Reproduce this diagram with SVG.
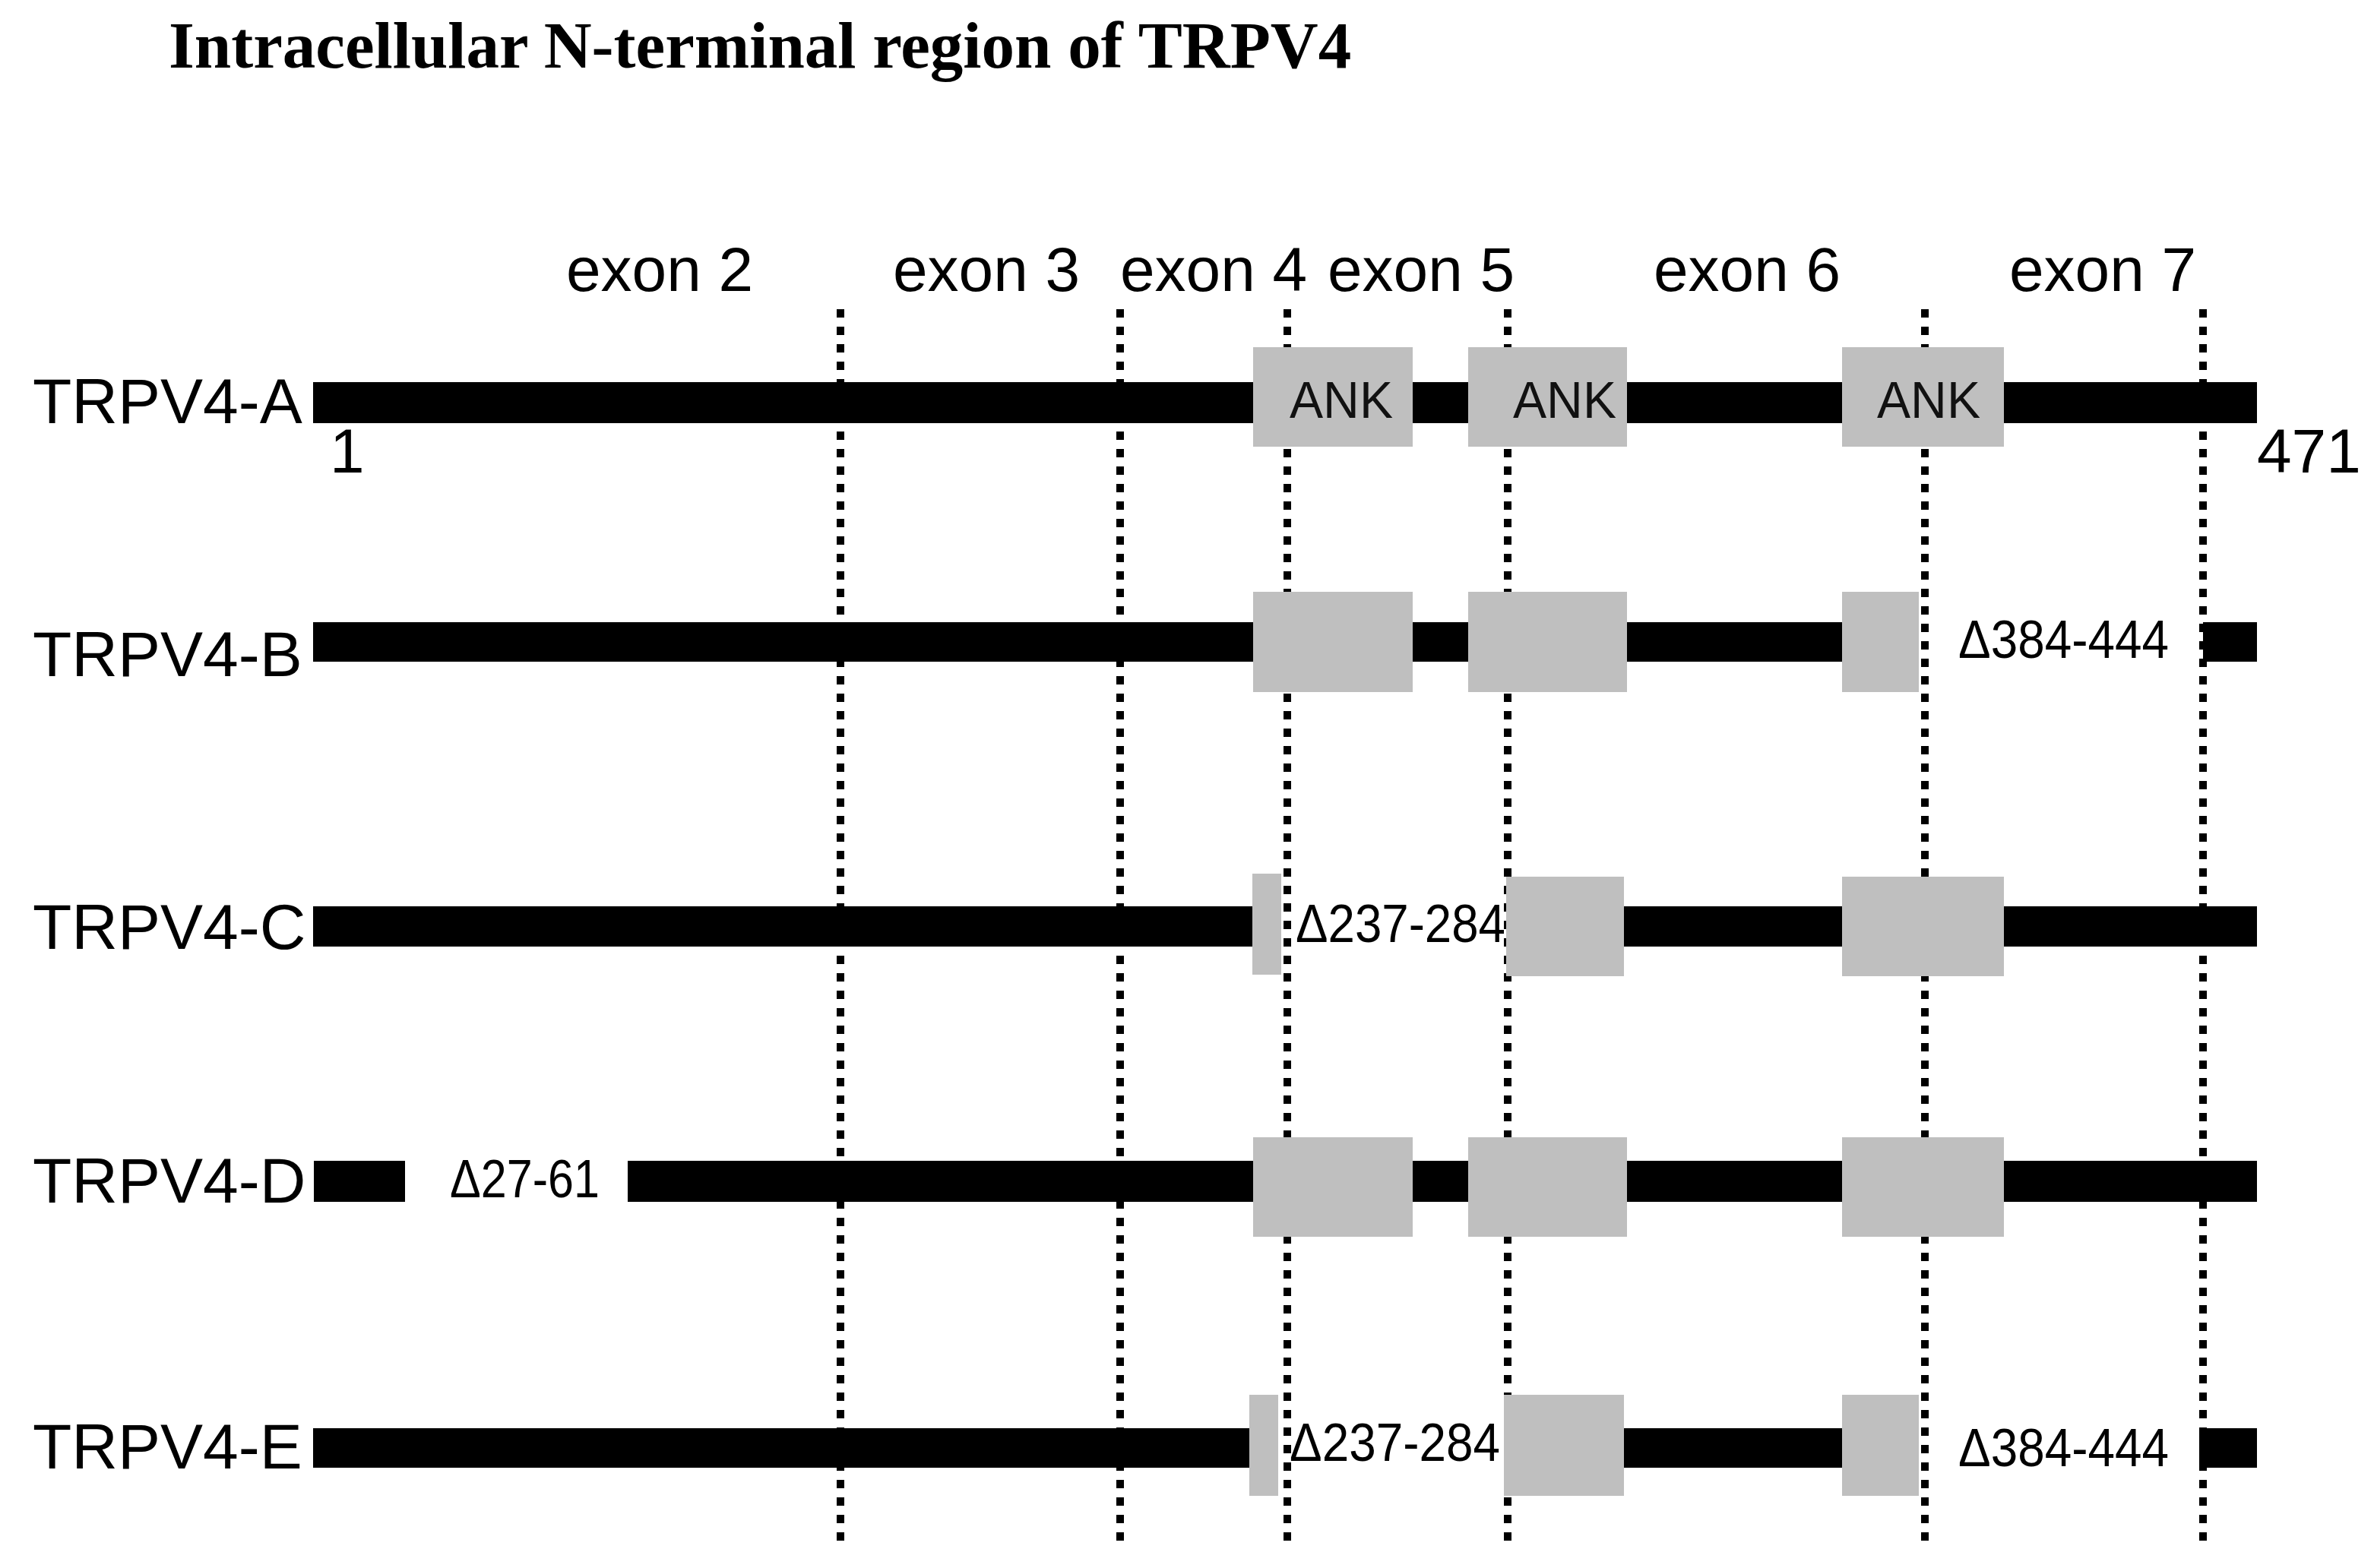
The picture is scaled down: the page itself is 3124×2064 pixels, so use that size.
<svg xmlns="http://www.w3.org/2000/svg" width="3124" height="2064" viewBox="0 0 3124 2064">
<style>
.title{font-family:"Liberation Serif","Times New Roman",serif;font-weight:bold;font-size:87px;fill:#000}
.lbl{font-family:"Liberation Sans",Arial,sans-serif;font-size:84px;fill:#000}
.exon{font-family:"Liberation Sans",Arial,sans-serif;font-size:82px;fill:#000}
.num{font-family:"Liberation Sans",Arial,sans-serif;font-size:82px;fill:#000}
.ank{font-family:"Liberation Sans",Arial,sans-serif;font-size:68px;fill:#111}
.del{font-family:"Liberation Sans",Arial,sans-serif;font-size:70px;fill:#000}
.bar{fill:#000}
.box{fill:#bfbfbf}
.dots{stroke:#000;stroke-width:10;stroke-dasharray:11 12;fill:none}
</style>
<rect width="3124" height="2064" fill="#fff"/>
<text class="title" x="222" y="89">Intracellular N-terminal region of TRPV4</text>
<g id="exon-labels">
<text class="exon" x="745" y="383">exon 2</text>
<text class="exon" x="1175" y="383">exon 3</text>
<text class="exon" x="1474" y="383">exon 4</text>
<text class="exon" x="1747" y="383">exon 5</text>
<text class="exon" x="2176" y="383">exon 6</text>
<text class="exon" x="2644" y="383">exon 7</text>
</g>
<g id="connectors">
<line class="dots" x1="1106" y1="407" x2="1106" y2="2037"/>
<line class="dots" x1="1474" y1="407" x2="1474" y2="2037"/>
<line class="dots" x1="1694" y1="407" x2="1694" y2="2037"/>
<line class="dots" x1="1984" y1="407" x2="1984" y2="2037"/>
<line class="dots" x1="2533" y1="407" x2="2533" y2="2037"/>
<line class="dots" x1="2899" y1="407" x2="2899" y2="2037"/>
</g>
<g id="trpv4-a">
<text class="lbl" x="43" y="557">TRPV4-A</text>
<rect class="bar" x="412" y="503" width="2558" height="54"/>
<rect class="box" x="1649" y="457" width="210" height="131"/>
<rect class="box" x="1932" y="457" width="209" height="131"/>
<rect class="box" x="2424" y="457" width="213" height="131"/>
<text class="ank" x="1697" y="550" textLength="136" lengthAdjust="spacingAndGlyphs">ANK</text>
<text class="ank" x="1991" y="550" textLength="136" lengthAdjust="spacingAndGlyphs">ANK</text>
<text class="ank" x="2470" y="550" textLength="136" lengthAdjust="spacingAndGlyphs">ANK</text>
<text class="num" x="434" y="622">1</text>
<text class="num" x="2970" y="622">471</text>
</g>
<g id="trpv4-b">
<text class="lbl" x="43" y="890">TRPV4-B</text>
<rect class="bar" x="412" y="819" width="2100" height="52"/>
<rect class="bar" x="2899" y="819" width="71" height="52"/>
<rect class="box" x="1649" y="779" width="210" height="132"/>
<rect class="box" x="1932" y="779" width="209" height="132"/>
<rect class="box" x="2424" y="779" width="101" height="132"/>
<text class="del" x="2577" y="866" textLength="277" lengthAdjust="spacingAndGlyphs">Δ384-444</text>
</g>
<g id="trpv4-c">
<text class="lbl" x="43" y="1249">TRPV4-C</text>
<rect class="bar" x="412" y="1193" width="1237" height="53"/>
<rect class="bar" x="1982" y="1193" width="988" height="53"/>
<rect class="box" x="1648" y="1150" width="38" height="133"/>
<rect class="box" x="1982" y="1154" width="155" height="131"/>
<rect class="box" x="2424" y="1154" width="213" height="131"/>
<text class="del" x="1705" y="1240" textLength="276" lengthAdjust="spacingAndGlyphs">Δ237-284</text>
</g>
<g id="trpv4-d">
<text class="lbl" x="43" y="1583">TRPV4-D</text>
<rect class="bar" x="413" y="1528" width="120" height="54"/>
<rect class="bar" x="826" y="1528" width="2144" height="54"/>
<rect class="box" x="1649" y="1497" width="210" height="131"/>
<rect class="box" x="1932" y="1497" width="209" height="131"/>
<rect class="box" x="2424" y="1497" width="213" height="131"/>
<text class="del" x="592" y="1576" textLength="197" lengthAdjust="spacingAndGlyphs">Δ27-61</text>
</g>
<g id="trpv4-e">
<text class="lbl" x="43" y="1933">TRPV4-E</text>
<rect class="bar" x="412" y="1880" width="1232" height="52"/>
<rect class="bar" x="1979" y="1880" width="500" height="52"/>
<rect class="bar" x="2894" y="1880" width="76" height="52"/>
<rect class="box" x="1644" y="1836" width="38" height="133"/>
<rect class="box" x="1979" y="1836" width="158" height="133"/>
<rect class="box" x="2424" y="1836" width="101" height="133"/>
<text class="del" x="1697" y="1923" textLength="277" lengthAdjust="spacingAndGlyphs">Δ237-284</text>
<text class="del" x="2577" y="1930" textLength="277" lengthAdjust="spacingAndGlyphs">Δ384-444</text>
</g>
</svg>
